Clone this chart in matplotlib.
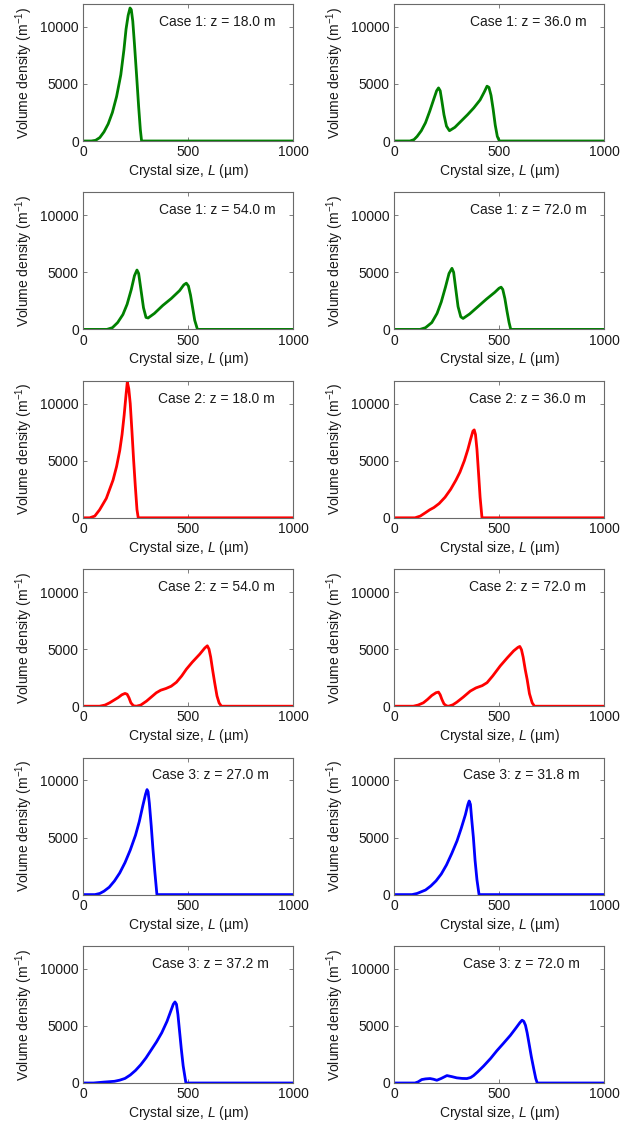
"""Crystal size distributions along the crystallizer, three cases, 6x2 panel grid."""

import matplotlib

matplotlib.use("Agg")
import matplotlib.pyplot as plt

plt.rcParams["font.family"] = ["Liberation Sans", "DejaVu Sans"]
plt.rcParams["mathtext.fontset"] = "custom"
plt.rcParams["mathtext.rm"] = "Liberation Sans"
plt.rcParams["mathtext.it"] = "Liberation Sans:italic"

# --- Data ----------------------------------------------------------------------
# crystal size L (um) and volume density (1/m) per panel
c1_z18_L = [0, 40, 60, 80, 100, 120, 140, 160, 180, 195, 205, 215, 224, 230, 237, 245, 255, 265, 273, 279, 1000]
c1_z18_v = [0, 0, 60, 300, 800, 1500, 2500, 3900, 5800, 8000, 9800, 11000, 11650, 11500, 10500, 8500, 5800, 3000, 1000, 0, 0]

c1_z36_L = [0, 76, 95, 110, 130, 150, 170, 190, 203, 212, 220, 228, 238, 250, 264, 290, 320, 350, 380,
            410, 430, 443, 452, 462, 472, 482, 492, 502, 1000]
c1_z36_v = [0, 0, 120, 400, 900, 1600, 2600, 3700, 4400, 4650, 4400, 3500, 2300, 1300, 900, 1200, 1750, 2300, 2900,
            3600, 4300, 4800, 4700, 4000, 2800, 1400, 400, 0, 0]

c1_z54_L = [0, 114, 140, 165, 190, 210, 230, 245, 257, 265, 275, 288, 300, 310, 340, 380, 420, 460,
            480, 492, 502, 512, 522, 532, 545, 1000]
c1_z54_v = [0, 0, 150, 600, 1300, 2200, 3500, 4700, 5200, 4900, 3600, 1900, 1050, 1000, 1400, 2100, 2700, 3400,
            3900, 4050, 3800, 3000, 1900, 800, 0, 0]

c1_z72_L = [0, 124, 150, 180, 205, 225, 245, 262, 276, 284, 293, 305, 318, 329, 360, 400, 440, 480,
            500, 510, 518, 528, 538, 548, 556, 1000]
c1_z72_v = [0, 0, 150, 600, 1400, 2400, 3700, 4900, 5350, 5000, 3700, 2000, 1100, 960, 1350, 2000, 2650, 3250,
            3600, 3700, 3500, 2700, 1600, 600, 0, 0]

c2_z18_L = [0, 32, 56, 79, 111, 143, 160, 175, 186, 196, 205, 211, 218, 225, 233, 241, 249, 257, 263, 1000]
c2_z18_v = [0, 0, 150, 700, 1700, 3300, 4500, 5900, 7300, 9000, 10800, 11900, 11300, 10000, 7600, 5070, 2800, 725, 0, 0]

c2_z36_L = [0, 100, 125, 150, 170, 190, 215, 243, 270, 295, 314, 335, 352, 365, 376, 382, 388, 395, 403, 410, 419, 1000]
c2_z36_v = [0, 0, 150, 450, 700, 900, 1250, 1800, 2500, 3300, 4000, 5000, 6000, 6900, 7600, 7700, 7300, 6000, 3800, 1800, 0, 0]

c2_z54_L = [0, 79, 105, 127, 150, 167, 185, 200, 210, 219, 228, 240, 254, 275, 302, 325, 349, 370, 395,
            420, 445, 470, 492, 520, 556, 580, 592, 600, 608, 617, 627, 638, 648, 659, 1000]
c2_z54_v = [0, 0, 100, 300, 560, 750, 1000, 1120, 1050, 735, 300, 40, 0, 100, 440, 800, 1176, 1400, 1550,
            1750, 2100, 2650, 3235, 3850, 4560, 5100, 5290, 5000, 4300, 3200, 2060, 900, 294, 0, 0]

c2_z72_L = [0, 92, 115, 140, 160, 180, 200, 212, 220, 228, 238, 250, 260, 280, 299, 330, 363, 390, 420,
            443, 470, 506, 540, 570, 590, 599, 607, 615, 625, 634, 645, 658, 669, 1000]
c2_z72_v = [0, 0, 100, 300, 600, 940, 1180, 1235, 1000, 600, 200, 30, 0, 120, 350, 800, 1320, 1600, 1800,
            2060, 2650, 3530, 4250, 4850, 5150, 5235, 4950, 4300, 3200, 2350, 1100, 294, 0, 0]

c3_z27_L = [0, 57, 80, 100, 125, 150, 175, 200, 225, 250, 268, 285, 298, 305, 310, 316, 325, 333, 342, 352, 1000]
c3_z27_v = [0, 0, 100, 300, 650, 1200, 1900, 2800, 3900, 5200, 6400, 7800, 8800, 9200, 9000, 8000, 6000, 4000, 2000, 0, 0]

c3_z318_L = [0, 86, 110, 130, 150, 175, 200, 225, 250, 275, 300, 320, 340, 352, 358, 364, 370, 378, 386, 395, 405, 1000]
c3_z318_v = [0, 0, 100, 250, 400, 750, 1200, 1800, 2600, 3600, 4700, 5800, 7000, 7900, 8200, 7900, 6600, 5000, 3000, 1300, 0, 0]

c3_z372_L = [0, 50, 100, 150, 175, 200, 225, 250, 275, 300, 325, 350, 375, 400, 418, 430, 438, 445, 452,
             460, 468, 477, 490, 1000]
c3_z372_v = [0, 0, 80, 150, 250, 400, 700, 1100, 1600, 2200, 2900, 3600, 4400, 5400, 6300, 6900, 7100, 6900, 6000,
             4500, 3000, 1500, 0, 0]

c3_z72_L = [0, 100, 115, 132, 150, 172, 188, 204, 225, 252, 275, 299, 325, 347, 365, 379, 400, 427, 460,
            490, 520, 554, 580, 600, 610, 618, 626, 634, 642, 654, 666, 675, 682, 1000]
c3_z72_v = [0, 0, 100, 300, 360, 390, 330, 240, 400, 650, 560, 450, 400, 390, 480, 650, 1000, 1490, 2150,
            2830, 3450, 4170, 4800, 5300, 5500, 5400, 5060, 4400, 3570, 2300, 1190, 400, 0, 0]

panel_L = [c1_z18_L, c1_z36_L, c1_z54_L, c1_z72_L, c2_z18_L, c2_z36_L,
           c2_z54_L, c2_z72_L, c3_z27_L, c3_z318_L, c3_z372_L, c3_z72_L]
panel_v = [c1_z18_v, c1_z36_v, c1_z54_v, c1_z72_v, c2_z18_v, c2_z36_v,
           c2_z54_v, c2_z72_v, c3_z27_v, c3_z318_v, c3_z372_v, c3_z72_v]
panel_case = [1, 1, 1, 1, 2, 2, 2, 2, 3, 3, 3, 3]
panel_z = [18.0, 36.0, 54.0, 72.0, 18.0, 36.0, 54.0, 72.0, 27.0, 31.8, 37.2, 72.0]

case_colors = {1: "#008000", 2: "#ff0000", 3: "#0000ff"}
label_x = {1: 0.36, 2: 0.355, 3: 0.33}  # axes fraction where the panel label starts

x_ticks = [0, 500, 1000]
y_ticks = [0, 5000, 10000]

# --- Figure ---------------------------------------------------------------------
W, H = 642, 1124
fig = plt.figure(figsize=(W / 100, H / 100), dpi=100)

ax_w, ax_h = 210, 137
col_left = [83, 394]
row_bottom0, row_step = 141, 188.4

for i in range(12):
    r, c = divmod(i, 2)
    bottom_px = row_bottom0 + row_step * r
    ax = fig.add_axes([col_left[c] / W, 1 - bottom_px / H, ax_w / W, ax_h / H])
    ax.plot(panel_L[i], panel_v[i], color=case_colors[panel_case[i]], lw=2,
            solid_joinstyle="round")
    ax.set_xlim(0, 1000)
    ax.set_ylim(0, 12000)
    ax.set_xticks(x_ticks)
    ax.set_yticks(y_ticks)
    ax.tick_params(direction="in", length=3, width=0.6, top=True, right=True,
                   labelsize=10, colors="#6a6a6a", labelcolor="#1a1a1a", pad=3)
    for sp in ax.spines.values():
        sp.set_color("#6a6a6a")
        sp.set_linewidth(0.8)
    ax.set_xlabel(r"Crystal size, $\mathit{L}$ (µm)", fontsize=10, color="#1a1a1a", labelpad=2)
    ax.set_ylabel(r"Volume density (m$^{-1}$)", fontsize=10, color="#1a1a1a", labelpad=4)
    ax.text(label_x[panel_case[i]], 0.87, f"Case {panel_case[i]}: z = {panel_z[i]:.1f} m",
            transform=ax.transAxes, ha="left", va="center", fontsize=10, color="#1a1a1a")

fig.savefig("out.png", dpi=100)
plt.close(fig)
